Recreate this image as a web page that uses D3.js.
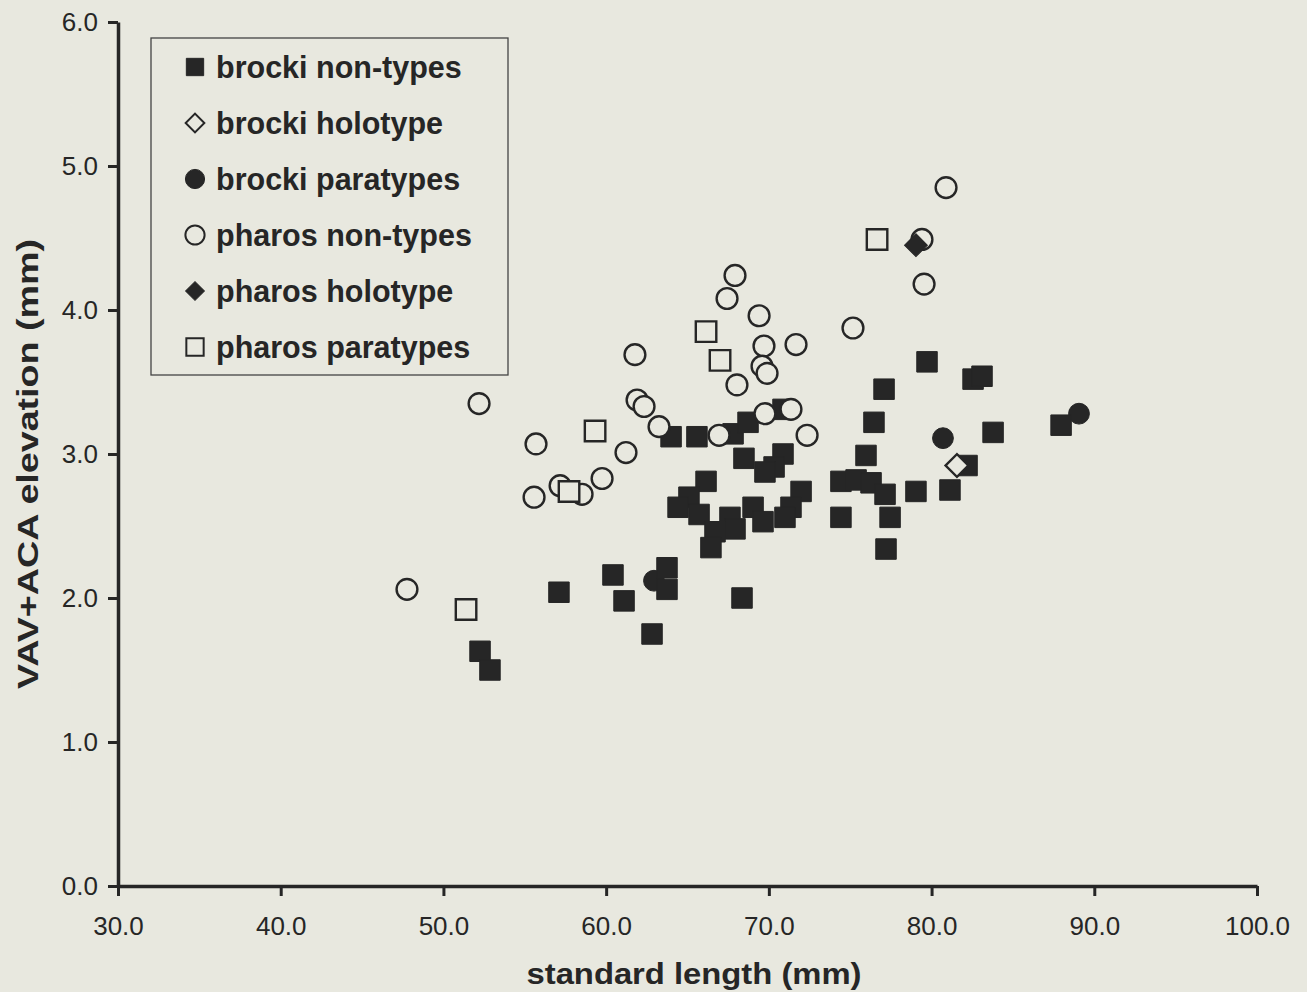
<!DOCTYPE html>
<html>
<head>
<meta charset="utf-8">
<script src="https://cdn.jsdelivr.net/npm/d3@7"></script>
<style>
  body { margin: 0; background: #e8e8df; }
  svg { display: block; }
</style>
</head>
<body>
<script>
// data: [standard length, VAV+ACA elevation]
const brockiNonTypes = [
  [52.25, 1.63], [52.86, 1.50], [57.10, 2.04], [60.42, 2.16], [61.10, 1.98],
  [62.82, 1.75], [63.74, 2.21], [63.74, 2.06], [63.99, 3.12], [65.58, 3.12],
  [67.80, 3.14], [68.72, 3.22], [70.87, 3.31], [68.47, 2.97], [70.87, 3.00],
  [70.32, 2.91], [69.76, 2.875], [66.14, 2.81], [65.09, 2.70], [64.42, 2.63],
  [65.71, 2.58], [67.61, 2.56], [67.92, 2.48], [66.69, 2.46], [66.44, 2.35],
  [69.03, 2.63], [69.64, 2.53], [71.98, 2.74], [71.36, 2.63], [70.99, 2.56],
  [74.43, 2.56], [68.35, 2.00], [74.43, 2.81], [75.36, 2.82], [76.28, 2.80],
  [77.14, 2.72], [77.45, 2.56], [79.04, 2.74], [81.13, 2.75], [77.20, 2.34],
  [77.08, 3.45], [76.46, 3.22], [75.97, 2.99], [79.72, 3.64], [82.55, 3.52],
  [83.10, 3.54], [83.78, 3.15], [87.96, 3.20], [82.18, 2.92]
]
const brockiHolotype = [[81.56, 2.92]]
const brockiParatypes = [[80.70, 3.11], [89.06, 3.28], [62.94, 2.12]]
const pharosNonTypes = [
  [47.76, 2.06], [52.19, 3.35], [55.69, 3.07], [55.57, 2.70], [57.17, 2.78],
  [58.52, 2.72], [59.75, 2.83], [61.22, 3.01], [61.77, 3.69], [61.90, 3.375],
  [62.33, 3.33], [63.25, 3.19], [66.94, 3.13], [67.92, 4.24], [67.43, 4.08],
  [69.40, 3.96], [69.70, 3.75], [69.58, 3.61], [69.89, 3.56], [68.04, 3.48],
  [71.67, 3.76], [75.17, 3.875], [69.76, 3.28], [71.36, 3.31], [72.35, 3.13],
  [80.89, 4.85], [79.41, 4.49], [79.54, 4.18]
]
const pharosHolotype = [[79.04, 4.45]]
const pharosParatypes = [
  [51.39, 1.92], [57.72, 2.74], [59.32, 3.16], [66.14, 3.85], [67.00, 3.65], [76.65, 4.49]
]

const xTicks = [30, 40, 50, 60, 70, 80, 90, 100]
const yTicks = [0, 1, 2, 3, 4, 5, 6]
const legendLabels = [
  'brocki non-types', 'brocki holotype', 'brocki paratypes',
  'pharos non-types', 'pharos holotype', 'pharos paratypes'
]

const WIDTH = 1307
const HEIGHT = 992
const BG = '#e8e8df'
const INK = '#262626'
const FONT = 'Liberation Sans, Arial, sans-serif'

const svg = d3.select('body').append('svg')
  .attr('width', WIDTH)
  .attr('height', HEIGHT)
  .style('font-family', FONT)

svg.append('rect').attr('width', WIDTH).attr('height', HEIGHT).attr('fill', BG)

const x = d3.scaleLinear().domain([30, 100]).range([118, 1257])
const y = d3.scaleLinear().domain([0, 6]).range([886, 22])

const sym = {
  square: d3.symbol().type(d3.symbolSquare).size(420),
  circle: d3.symbol().type(d3.symbolCircle).size(340),
  diamond: d3.symbol().type(d3.symbolSquare).size(260)
}

function drawSeries(data, kind, filled) {
  svg.append('g').selectAll('path')
    .data(data)
    .join('path')
    .attr('d', sym[kind])
    .attr('transform', d => `translate(${x(d[0])},${y(d[1])})` + (kind === 'diamond' ? ' rotate(45)' : ''))
    .attr('fill', filled ? INK : BG)
    .attr('stroke', INK)
    .attr('stroke-width', filled ? 1 : 2.4)
}

// axes
const xAxis = svg.append('g')
  .attr('transform', `translate(0,${y(0)})`)
  .call(d3.axisBottom(x).tickValues(xTicks).tickFormat(d3.format('.1f')).tickSize(10).tickSizeOuter(0).tickPadding(21))
const yAxis = svg.append('g')
  .attr('transform', `translate(${x(30)},0)`)
  .call(d3.axisLeft(y).tickValues(yTicks).tickFormat(d3.format('.1f')).tickSize(10).tickSizeOuter(0).tickPadding(10))

for (const ax of [xAxis, yAxis]) {
  ax.select('.domain').attr('stroke', INK).attr('stroke-width', 3.5)
  ax.selectAll('.tick line').attr('stroke', INK).attr('stroke-width', 3)
  ax.selectAll('.tick text').attr('fill', INK).style('font-size', '26px')
    .style('font-family', FONT)
}

// points, in the stacking order of the original
drawSeries(brockiParatypes, 'circle', true)
drawSeries(brockiNonTypes, 'square', true)
drawSeries(pharosNonTypes, 'circle', false)
drawSeries(pharosParatypes, 'square', false)
drawSeries(pharosHolotype, 'diamond', true)
drawSeries(brockiHolotype, 'diamond', false)

// axis titles
svg.append('text')
  .attr('x', 694).attr('y', 984)
  .attr('text-anchor', 'middle')
  .attr('fill', INK)
  .attr('textLength', 335).attr('lengthAdjust', 'spacingAndGlyphs')
  .style('font-size', '30px').style('font-weight', 'bold')
  .text('standard length (mm)')
svg.append('text')
  .attr('transform', 'translate(38,464) rotate(-90)')
  .attr('text-anchor', 'middle')
  .attr('fill', INK)
  .attr('textLength', 450).attr('lengthAdjust', 'spacingAndGlyphs')
  .style('font-size', '30px').style('font-weight', 'bold')
  .text('VAV+ACA elevation (mm)')

// legend
const legend = svg.append('g')
legend.append('rect')
  .attr('x', 151).attr('y', 38).attr('width', 357).attr('height', 337)
  .attr('fill', 'none').attr('stroke', '#444').attr('stroke-width', 1.3)

const legendSym = [
  ['square', true], ['diamond', false], ['circle', true],
  ['circle', false], ['diamond', true], ['square', false]
]
const legendSize = { square: 300, circle: 290, diamond: 175 }
legendLabels.forEach((label, i) => {
  const cy = 67 + i * 56
  const [kind, filled] = legendSym[i]
  legend.append('path')
    .attr('d', d3.symbol().type(kind === 'circle' ? d3.symbolCircle : d3.symbolSquare).size(legendSize[kind]))
    .attr('transform', `translate(195,${cy})` + (kind === 'diamond' ? ' rotate(45)' : ''))
    .attr('fill', filled ? INK : BG)
    .attr('stroke', INK)
    .attr('stroke-width', filled ? 1 : 2)
  legend.append('text')
    .attr('x', 216).attr('y', cy)
    .attr('dy', '0.36em')
    .attr('fill', INK)
    .style('font-size', '30.5px').style('font-weight', 'bold')
    .text(label)
})
</script>
</body>
</html>
